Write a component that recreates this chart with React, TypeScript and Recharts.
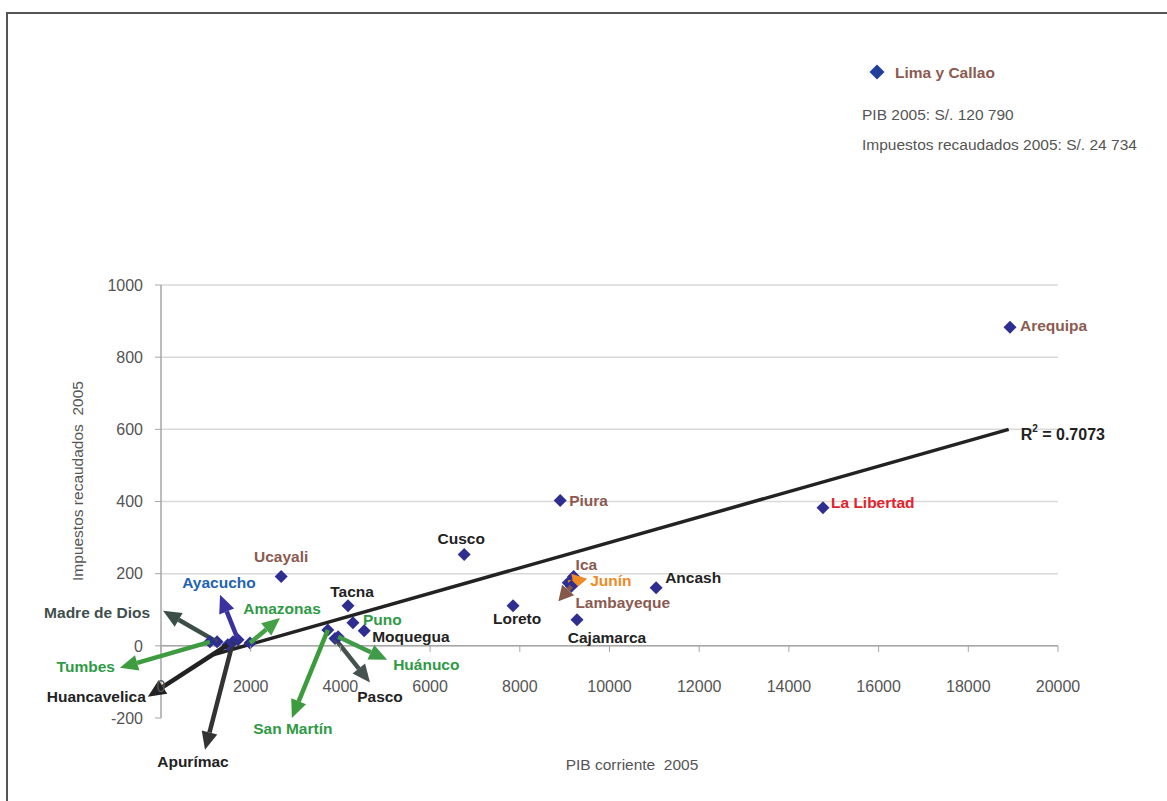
import {
  ScatterChart,
  Scatter,
  XAxis,
  YAxis,
  CartesianGrid,
  ReferenceLine,
  ReferenceDot,
} from "recharts";

// departamentos (sin Lima y Callao, que va aparte)
const departamentos = [
  "Arequipa",
  "La Libertad",
  "Piura",
  "Cusco",
  "Ica",
  "Junín",
  "Lambayeque",
  "Ancash",
  "Loreto",
  "Cajamarca",
  "Ucayali",
  "Tacna",
  "Puno",
  "Moquegua",
  "San Martín",
  "Pasco",
  "Huánuco",
  "Amazonas",
  "Ayacucho",
  "Apurímac",
  "Huancavelica",
  "Madre de Dios",
  "Tumbes",
];

const pibCorriente = [
  18930, 14760, 8900, 6760, 9200, 9080, 9150, 11040, 7850, 9275, 2680, 4170,
  4280, 4530, 3720, 3880, 3950, 1985, 1717, 1605, 1490, 1250, 1090,
];

const impuestos = [
  883, 383, 403, 253, 192, 175, 165, 161, 111, 72, 192, 111, 64, 42, 44, 20,
  25, 8, 17, 11, 3, 11, 11,
];

const xTicks = [0, 2000, 4000, 6000, 8000, 10000, 12000, 14000, 16000, 18000, 20000];
const yTicks = [-200, 0, 200, 400, 600, 800, 1000];
const gridValues = [0, 200, 400, 600, 800, 1000];

// tendencia lineal
const trendPib = [1160, 18900];
const trendImp = [-25, 600];
const r2 = "0.7073";

const limaNombre = "Lima y Callao";
const limaPib = "S/. 120 790";
const limaImp = "S/. 24 734";

const FONT = "'Liberation Sans', Arial, Helvetica, sans-serif";
const Y_MIN = -200;
const Y_MAX = 1000;
const PLOT_TOP = 285;
const PLOT_H = 433;
const zeroY = PLOT_TOP + (PLOT_H * Y_MAX) / (Y_MAX - Y_MIN);

const BROWN = "#8b5a50";
const GREEN = "#2f9a45";
const BLACK = "#222222";

type LabelStyle = {
  color: string;
  dx: number;
  dy: number;
  anchor?: "start" | "middle" | "end";
  arrow?: [number, number];
  arrowColor?: string;
};

const labelLayout: Record<string, LabelStyle> = {
  Arequipa: { color: BROWN, dx: 10, dy: -2 },
  "La Libertad": { color: "#e3222b", dx: 8, dy: -5 },
  Piura: { color: BROWN, dx: 9, dy: 0 },
  Cusco: { color: BLACK, dx: -3, dy: -16, anchor: "middle" },
  Ica: { color: BROWN, dx: 2, dy: -12 },
  "Junín": { color: "#f08a24", dx: 22, dy: -2, arrow: [19, -4], arrowColor: "#f08a24" },
  Lambayeque: { color: BROWN, dx: 4, dy: 16, arrow: [-13, 15], arrowColor: "#85584a" },
  Ancash: { color: BLACK, dx: 9, dy: -10 },
  Loreto: { color: BLACK, dx: 4, dy: 13, anchor: "middle" },
  Cajamarca: { color: BLACK, dx: 30, dy: 18, anchor: "middle" },
  Ucayali: { color: BROWN, dx: 0, dy: -20, anchor: "middle" },
  Tacna: { color: BLACK, dx: 4, dy: -14, anchor: "middle" },
  Puno: { color: GREEN, dx: 10, dy: -3 },
  Moquegua: { color: BLACK, dx: 8, dy: 6 },
  "San Martín": { color: GREEN, dx: -35, dy: 99, anchor: "middle", arrow: [-36, 88], arrowColor: "#3c9c3c" },
  Pasco: { color: BLACK, dx: 45, dy: 58, anchor: "middle", arrow: [35, 44], arrowColor: "#45524f" },
  "Huánuco": { color: GREEN, dx: 55, dy: 28, arrow: [49, 23], arrowColor: "#3f9b47" },
  Amazonas: { color: GREEN, dx: 32, dy: -34, anchor: "middle", arrow: [30, -25], arrowColor: "#44a044" },
  Ayacucho: { color: "#1f63b0", dx: -19, dy: -57, anchor: "middle", arrow: [-18, -45], arrowColor: "#3a32a0" },
  "Apurímac": { color: BLACK, dx: -40, dy: 120, anchor: "middle", arrow: [-28, 108], arrowColor: "#333333" },
  Huancavelica: { color: BLACK, dx: -82, dy: 52, anchor: "end", arrow: [-80, 52], arrowColor: "#222222" },
  "Madre de Dios": { color: "#3f4f4c", dx: -67, dy: -29, anchor: "end", arrow: [-54, -31], arrowColor: "#3c4e48" },
  Tumbes: { color: GREEN, dx: -95, dy: 25, anchor: "end", arrow: [-90, 26], arrowColor: "#3f9b3f" },
};

const data = departamentos.map((name, i) => ({
  name,
  pib: pibCorriente[i],
  imp: impuestos[i],
}));

function Arrow(props: { x1: number; y1: number; x2: number; y2: number; color: string }) {
  const { x1, y1, x2, y2, color } = props;
  const ang = Math.atan2(y2 - y1, x2 - x1);
  const dist = Math.hypot(x2 - x1, y2 - y1);
  const len = Math.min(18, dist * 0.75);
  const half = 8;
  const c = Math.cos(ang);
  const s = Math.sin(ang);
  const bx = x2 - len * c;
  const by = y2 - len * s;
  return (
    <g>
      <line x1={x1} y1={y1} x2={bx} y2={by} stroke={color} strokeWidth={4.5} />
      <polygon
        points={`${x2},${y2} ${bx - s * half},${by + c * half} ${bx + s * half},${by - c * half}`}
        fill={color}
      />
    </g>
  );
}

function Diamond(props: { cx: number; cy: number; r: number; fill: string }) {
  const { cx, cy, r, fill } = props;
  return (
    <polygon
      points={`${cx},${cy - r} ${cx + r},${cy} ${cx},${cy + r} ${cx - r},${cy}`}
      fill={fill}
    />
  );
}

function PointShape(props: any) {
  const { cx, cy, payload } = props;
  if (cx == null || cy == null) return null;
  const l = labelLayout[payload.name];
  return (
    <g>
      <Diamond cx={cx} cy={cy} r={6.5} fill="#2e2e91" />
      {l && l.arrow && (
        <Arrow
          x1={cx}
          y1={cy}
          x2={cx + l.arrow[0]}
          y2={cy + l.arrow[1]}
          color={l.arrowColor || BLACK}
        />
      )}
      {l && (
        <text
          x={cx + l.dx}
          y={cy + l.dy}
          textAnchor={l.anchor || "start"}
          dominantBaseline="central"
          fill={l.color}
          fontFamily={FONT}
          fontWeight="bold"
          fontSize={15.5}
        >
          {payload.name}
        </text>
      )}
    </g>
  );
}

function XTick(props: any) {
  const { x, payload } = props;
  return (
    <g>
      <line x1={x} x2={x} y1={zeroY} y2={zeroY + 6} stroke="#a6a6a6" />
      <text
        x={x}
        y={686}
        textAnchor="middle"
        dominantBaseline="central"
        fill="#555555"
        fontFamily={FONT}
        fontSize={16}
      >
        {payload.value}
      </text>
    </g>
  );
}

export default function App() {
  return (
    <div
      style={{
        position: "absolute",
        left: 0,
        top: 0,
        width: 1167,
        height: 801,
        overflow: "hidden",
        background: "#ffffff",
        fontFamily: FONT,
      }}
    >
      <div
        style={{
          position: "absolute",
          left: 6,
          top: 12,
          width: 1300,
          height: 900,
          border: "2px solid #555555",
        }}
      />

      <ScatterChart
        width={1167}
        height={801}
        margin={{ top: PLOT_TOP, right: 109, bottom: 53, left: 101 }}
        style={{ position: "absolute", left: 0, top: 0 }}
      >
        <CartesianGrid
          vertical={false}
          stroke="#d9d9d9"
          strokeWidth={1.5}
          horizontalValues={gridValues}
        />
        <XAxis
          type="number"
          dataKey="pib"
          domain={[0, 20000]}
          ticks={xTicks}
          height={30}
          axisLine={false}
          tickLine={false}
          tick={<XTick />}
          interval={0}
        />
        <YAxis
          type="number"
          dataKey="imp"
          domain={[Y_MIN, Y_MAX]}
          ticks={yTicks}
          width={60}
          interval={0}
          axisLine={{ stroke: "#a6a6a6", strokeWidth: 1.5 }}
          tickLine={{ stroke: "#a6a6a6" }}
          tickSize={6}
          tickMargin={12}
          tick={{ fill: "#555555", fontSize: 16, fontFamily: FONT }}
        />
        <ReferenceLine y={0} stroke="#a6a6a6" strokeWidth={1.5} />
        <Scatter
          data={data}
          isAnimationActive={false}
          shape={<PointShape />}
        />
        <ReferenceLine
          segment={[
            { x: trendPib[0], y: trendImp[0] },
            { x: trendPib[1], y: trendImp[1] },
          ]}
          stroke="#222222"
          strokeWidth={3.5}
          ifOverflow="visible"
        />
        <ReferenceDot
          x={trendPib[1]}
          y={trendImp[1]}
          r={0}
          ifOverflow="visible"
          shape={(p: any) => (
            <text
              x={p.cx + 12}
              y={p.cy + 11}
              fill="#222222"
              fontFamily={FONT}
              fontWeight="bold"
              fontSize={16}
            >
              R
              <tspan fontSize={10} dy={-8}>
                2
              </tspan>
              <tspan dy={8}>{` = ${r2}`}</tspan>
            </text>
          )}
        />
      </ScatterChart>

      {/* leyenda Lima y Callao */}
      <svg
        width={16}
        height={16}
        style={{ position: "absolute", left: 869, top: 64 }}
      >
        <Diamond cx={8} cy={8} r={7.5} fill="#1f3f9a" />
      </svg>
      <div
        style={{
          position: "absolute",
          left: 895,
          top: 63,
          fontSize: 15.5,
          fontWeight: "bold",
          color: BROWN,
          lineHeight: "20px",
        }}
      >
        {limaNombre}
      </div>
      <div
        style={{
          position: "absolute",
          left: 862,
          top: 105,
          fontSize: 15.5,
          color: "#555555",
          lineHeight: "20px",
          whiteSpace: "nowrap",
        }}
      >
        PIB 2005: {limaPib}
      </div>
      <div
        style={{
          position: "absolute",
          left: 862,
          top: 135,
          fontSize: 15.5,
          color: "#555555",
          lineHeight: "20px",
          whiteSpace: "nowrap",
        }}
      >
        Impuestos recaudados 2005: {limaImp}
      </div>

      {/* titulos de ejes */}
      <div
        style={{
          position: "absolute",
          left: 78,
          top: 481,
          transform: "translate(-50%, -50%) rotate(-90deg)",
          fontSize: 15.5,
          color: "#555555",
          whiteSpace: "pre",
        }}
      >
        {"Impuestos recaudados  2005"}
      </div>
      <div
        style={{
          position: "absolute",
          left: 632,
          top: 765,
          transform: "translate(-50%, -50%)",
          fontSize: 15.5,
          color: "#555555",
          whiteSpace: "pre",
        }}
      >
        {"PIB corriente  2005"}
      </div>
    </div>
  );
}
